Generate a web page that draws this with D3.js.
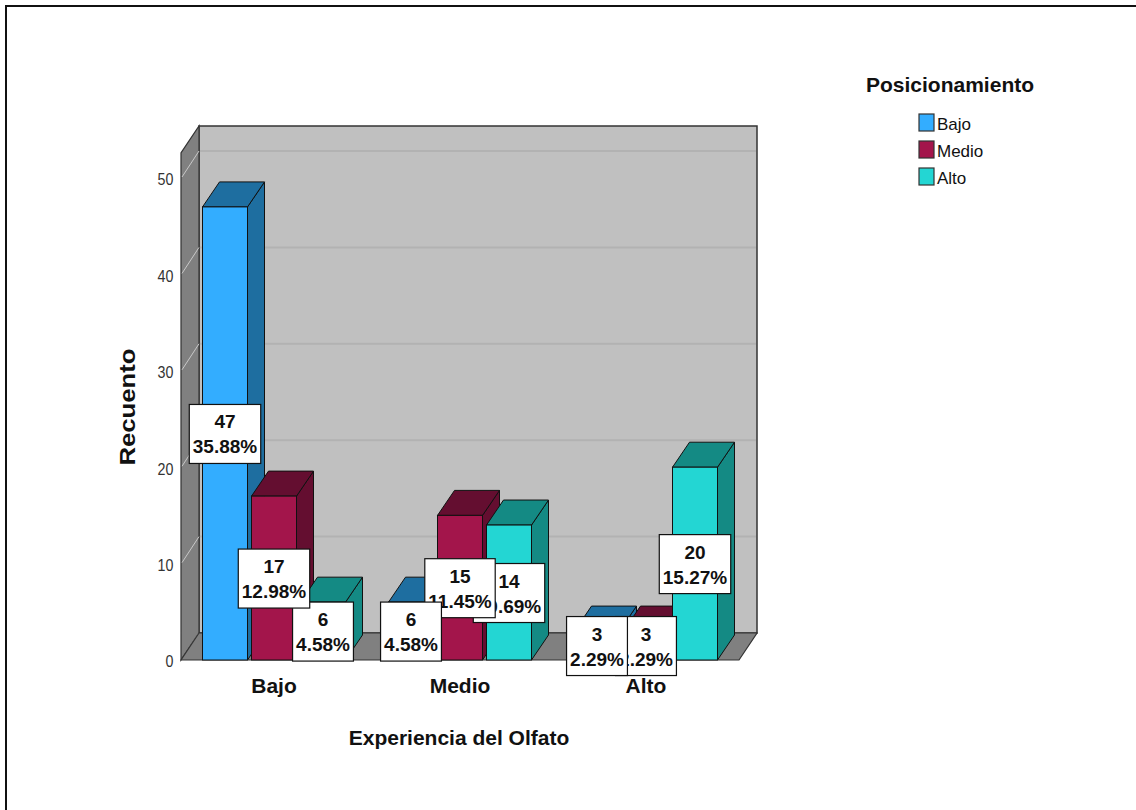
<!DOCTYPE html>
<html>
<head>
<meta charset="utf-8">
<script src="https://cdn.jsdelivr.net/npm/d3@7/dist/d3.min.js"></script>
<style>
  html, body { margin: 0; padding: 0; background: #fff; }
  svg { display: block; font-family: "Liberation Sans", Arial, sans-serif; }
</style>
</head>
<body>
<svg id="chart" width="1136" height="810"></svg>
<script>
// ---- data ----
const categories = ["Bajo", "Medio", "Alto"];            // Experiencia del Olfato
const series = ["Bajo", "Medio", "Alto"];                // Posicionamiento
const countsBajo = [47, 6, 3];
const countsMedio = [17, 15, 3];
const countsAlto = [6, 14, 20];
const pctBajo = ["35.88%", "4.58%", "2.29%"];
const pctMedio = ["12.98%", "11.45%", "2.29%"];
const pctAlto = ["4.58%", "10.69%", "15.27%"];
const yTicks = [0, 10, 20, 30, 40, 50];
const seriesColors = ["#33adff", "#a3154b", "#23d6d3"];
const seriesDark = ["#1e6ea0", "#640e30", "#148a84"];

const counts = [countsBajo, countsMedio, countsAlto];
const pcts = [pctBajo, pctMedio, pctAlto];

// ---- layout ----
const svg = d3.select("#chart");
const x0 = 181, x1 = 739, yBase = 660;
const wallDx = 18, wallDy = -27;
const barDx = 17, barDy = -25;

const y = d3.scaleLinear().domain([0, 50]).range([yBase, 178]);
const yTop = y(52.6);
const xCat = d3.scaleBand().domain(categories).range([x0, x1]);
const xSer = d3.scaleBand().domain(series).range([-71.5, 71.5]).paddingInner(4 / 49);

// frame
svg.append("line").attr("x1", 5).attr("x2", 1136).attr("y1", 6).attr("y2", 6)
  .attr("stroke", "#111").attr("stroke-width", 2);
svg.append("line").attr("x1", 6).attr("x2", 6).attr("y1", 5).attr("y2", 810)
  .attr("stroke", "#111").attr("stroke-width", 2);

const poly = pts => pts.map(p => p.join(",")).join(" ");

// back wall
svg.append("polygon")
  .attr("points", poly([[x0 + wallDx, yTop + wallDy], [x1 + wallDx, yTop + wallDy], [x1 + wallDx, yBase + wallDy], [x0 + wallDx, yBase + wallDy]]))
  .attr("fill", "#c0c0c0").attr("stroke", "#333").attr("stroke-width", 1.5);
// gridlines on back wall
svg.append("g").selectAll("line").data(yTicks.filter(d => d > 0)).join("line")
  .attr("x1", x0 + wallDx + 1).attr("x2", x1 + wallDx - 1)
  .attr("y1", d => y(d) + wallDy).attr("y2", d => y(d) + wallDy)
  .attr("stroke", "#b2b2b2").attr("stroke-width", 2);
// left wall
svg.append("polygon")
  .attr("points", poly([[x0, yTop], [x0 + wallDx, yTop + wallDy], [x0 + wallDx, yBase + wallDy], [x0, yBase]]))
  .attr("fill", "#808080").attr("stroke", "#333").attr("stroke-width", 1.2);
// diagonal tick lines on left wall
svg.append("g").selectAll("line").data(yTicks).join("line")
  .attr("x1", x0 + 1).attr("x2", x0 + wallDx)
  .attr("y1", d => y(d) - 1).attr("y2", d => y(d) + wallDy)
  .attr("stroke", "#c8c8c8").attr("stroke-width", 1);
// floor
svg.append("polygon")
  .attr("points", poly([[x0, yBase], [x1, yBase], [x1 + wallDx, yBase + wallDy], [x0 + wallDx, yBase + wallDy]]))
  .attr("fill", "#808080").attr("stroke", "#333").attr("stroke-width", 1.2);

// bars
const bars = [];
categories.forEach((c, ci) => {
  series.forEach((s, si) => {
    bars.push({ c, s, ci, si, v: counts[si][ci], p: pcts[si][ci] });
  });
});
const gBars = svg.append("g");
bars.forEach(b => {
  const cx = xCat(b.c) + xCat.bandwidth() / 2;
  const bx0 = cx + xSer(b.s), bx1 = bx0 + xSer.bandwidth();
  const yt = y(b.v);
  const g = gBars.append("g");
  g.append("polygon")
    .attr("points", poly([[bx1, yt], [bx1 + barDx, yt + barDy], [bx1 + barDx, yBase + barDy], [bx1, yBase]]))
    .attr("fill", seriesDark[b.si]).attr("stroke", "#111").attr("stroke-width", 1);
  g.append("polygon")
    .attr("points", poly([[bx0, yt], [bx0 + barDx, yt + barDy], [bx1 + barDx, yt + barDy], [bx1, yt]]))
    .attr("fill", seriesDark[b.si]).attr("stroke", "#111").attr("stroke-width", 1);
  g.append("rect")
    .attr("x", bx0).attr("y", yt).attr("width", bx1 - bx0).attr("height", yBase - yt)
    .attr("fill", seriesColors[b.si]).attr("stroke", "#111").attr("stroke-width", 1);
  b.cx = (bx0 + bx1) / 2;
  b.cy = (yt + yBase) / 2;
});

// axes
const yAxis = svg.append("g").attr("transform", `translate(${x0},0)`)
  .call(d3.axisLeft(y).tickValues(yTicks).tickSize(0).tickPadding(9));
yAxis.select(".domain").remove();
yAxis.selectAll("text").attr("font-size", 17).attr("fill", "#333")
  .attr("font-family", "Liberation Sans, Arial, sans-serif").attr("dy", "0.4em")
  .attr("transform", "scale(0.84,1)");

const xAxis = svg.append("g").attr("transform", `translate(0,${yBase})`)
  .call(d3.axisBottom(xCat).tickSize(0).tickPadding(18));
xAxis.select(".domain").remove();
xAxis.selectAll("text").attr("font-size", 21).attr("font-weight", "bold").attr("fill", "#111")
  .attr("font-family", "Liberation Sans, Arial, sans-serif");

// value labels (drawn per group, last series first so earlier series sit on top)
const gLab = svg.append("g");
categories.forEach((c, ci) => {
  for (let si = series.length - 1; si >= 0; si--) {
    const b = bars.find(d => d.ci === ci && d.si === si);
    const g = gLab.append("g");
    const rect = g.append("rect").attr("fill", "#fff").attr("stroke", "#111").attr("stroke-width", 1.2);
    const t1 = g.append("text").attr("x", b.cx).attr("y", b.cy - 5).attr("text-anchor", "middle")
      .attr("font-size", 19).attr("font-weight", "bold").attr("fill", "#111").text(b.v);
    const t2 = g.append("text").attr("x", b.cx).attr("y", b.cy + 20).attr("text-anchor", "middle")
      .attr("font-size", 19).attr("font-weight", "bold").attr("fill", "#111").text(b.p);
    const w = Math.max(t1.node().getComputedTextLength(), t2.node().getComputedTextLength()) + 7;
    rect.attr("x", b.cx - w / 2).attr("y", b.cy - 29).attr("width", w).attr("height", 59);
  }
});

// axis titles
svg.append("text").attr("transform", "translate(135,407) rotate(-90)")
  .attr("text-anchor", "middle").attr("font-size", 22).attr("font-weight", "bold").attr("fill", "#111")
  .attr("textLength", 117).attr("lengthAdjust", "spacingAndGlyphs").text("Recuento");
svg.append("text").attr("x", 459).attr("y", 745).attr("text-anchor", "middle")
  .attr("font-size", 21).attr("font-weight", "bold").attr("fill", "#111").text("Experiencia del Olfato");

// legend
svg.append("text").attr("x", 866).attr("y", 92).attr("font-size", 21).attr("font-weight", "bold")
  .attr("fill", "#111").text("Posicionamiento");
const lg = svg.append("g").selectAll("g").data(series).join("g")
  .attr("transform", (d, i) => `translate(919,${114 + i * 27})`);
lg.append("rect").attr("width", 15).attr("height", 17)
  .attr("fill", (d, i) => seriesColors[i]).attr("stroke", "#333").attr("stroke-width", 1.2);
lg.append("text").attr("x", 18).attr("y", 16).attr("font-size", 17).attr("fill", "#111").text(d => d);
</script>
</body>
</html>
